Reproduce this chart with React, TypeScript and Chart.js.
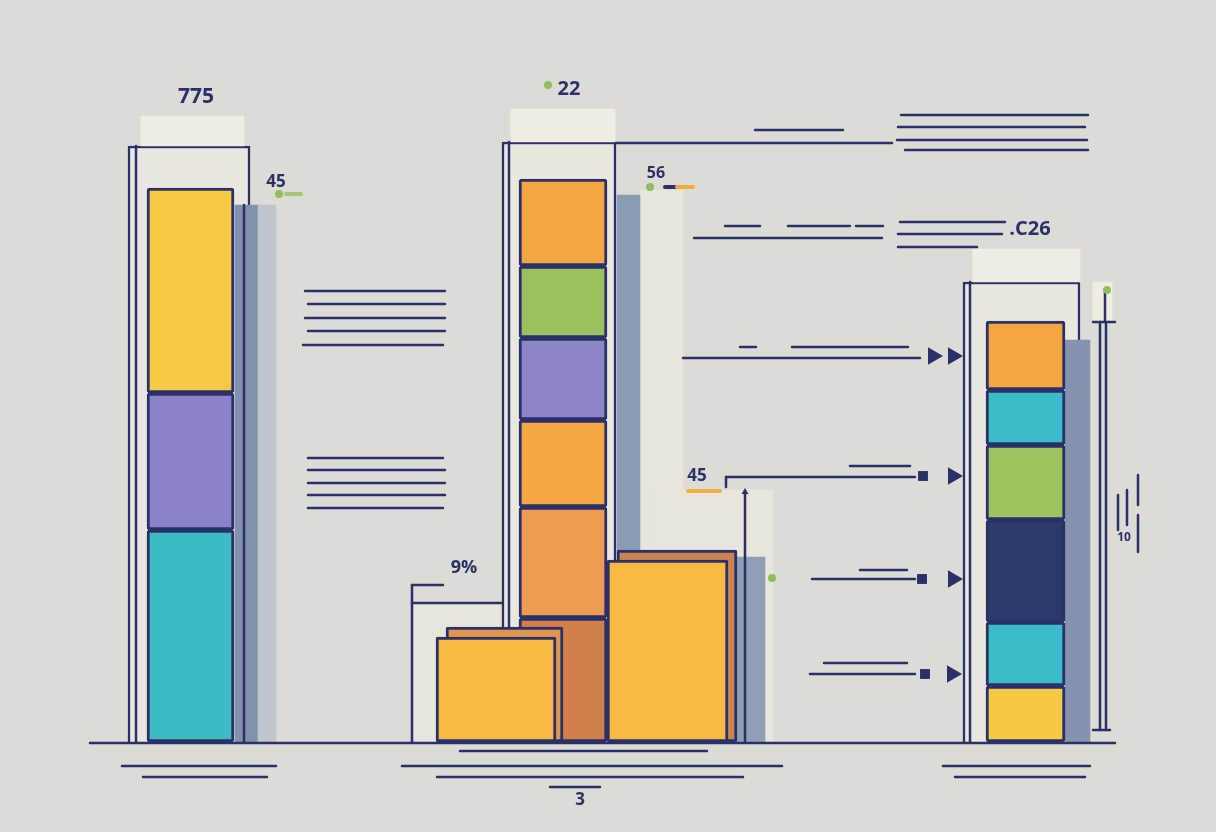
import React, { useEffect, useRef } from "react";
import { Chart, registerables } from "chart.js";
Chart.register(...registerables);

const NAVY = "#2a3068";
const BG = "#dcdbd5";

// ---------- main stacked columns ----------
const columnLabels = ["Left", "Middle", "Right"];
const columnX = [19.05, 56.3, 102.55];
const leftValues = [21.2, 13.7, 20.5];
const middleValues = [12.4, 11.1, 8.7, 8.2, 7.2, 8.7];
const rightValues = [5.6, 6.4, 10.2, 7.5, 5.5, 6.9];
const leftColors = ["#3dbbc5", "#8b83c8", "#f7c945"];
const middleColors = ["#d27f49", "#ef9b52", "#f5a744", "#8c86c6", "#9bc05f", "#f5a642"];
const rightColors = ["#f6c944", "#3cbcc9", "#2c3a6c", "#9dc45f", "#3bbdc9", "#f5a541"];
const columnValues = [leftValues, middleValues, rightValues];
const columnColors = [leftColors, middleColors, rightColors];
const columnWidth = [87, 88, 79];

// ---------- frames, caps ----------
const frameX = [18.9, 55.9, 102.15];
const frameTop = [59.6, 60.0, 46.0];
const frameWidth = [122, 114, 117];
const capX = [19.25, 56.3, 102.65];
const capTop = [62.6, 63.3, 49.3];
const capWidth = [103, 104, 107];

// ---------- shadows & cream panels ----------
const shadowX = [24.65, 26.7, 62.85, 75.1, 107.75];
const shadowTop = [53.7, 53.7, 54.7, 18.5, 40.2];
const shadowWidth = [23, 18, 23, 28, 25];
const shadowColors = ["#8192ad", "#c0c6cc", "#8a9bb4", "#8fa0b6", "#8494ae"];
const creamX = [66.15, 71.45, 45.6];
const creamTop = [55.2, 25.2, 13.9];
const creamWidth = [43, 117, 88];

// ---------- front boxes ----------
const boxX = [50.45, 49.6, 67.7, 66.75];
const boxTop = [11.5, 10.5, 19.2, 18.2];
const boxWidth = [117, 120, 120, 121];
const boxColors = ["#df964d", "#f6b843", "#c98450", "#f7b944"];

// ---------- rules (x1, x2, y) ----------
const hRules: number[][] = [
  [30.5, 44.5, 45.1], [30.8, 44.5, 43.8], [30.5, 44.5, 42.4], [30.8, 44.5, 41.1], [30.3, 44.3, 39.7],
  [30.8, 44.3, 28.4], [30.8, 44.5, 27.2], [30.8, 44.5, 25.9], [30.8, 44.5, 24.7], [30.8, 44.3, 23.4],
  [75.5, 84.3, 61.2], [61.6, 89.2, 59.9], [90.1, 108.8, 62.7], [89.8, 108.5, 61.5], [89.7, 108.7, 60.2], [90.5, 108.8, 59.2],
  [72.5, 76.0, 51.6], [78.8, 85.0, 51.6], [85.6, 88.3, 51.6], [69.4, 88.2, 50.4],
  [90.0, 100.5, 52.0], [89.8, 100.2, 50.8], [89.8, 97.7, 49.5],
  [74.0, 75.6, 39.5], [79.2, 90.8, 39.5], [68.3, 92.0, 38.4],
  [85.0, 91.0, 27.6], [72.6, 91.5, 26.5],
  [86.0, 90.7, 17.2], [81.2, 91.5, 16.3],
  [82.4, 90.7, 7.9], [81.0, 91.5, 6.8],
  [9.0, 111.5, -0.1],
  [12.2, 27.6, -2.4], [14.3, 26.7, -3.5],
  [46.0, 70.7, -0.9], [40.2, 78.2, -2.4], [43.7, 74.3, -3.5], [55.0, 60.0, -4.5],
  [94.3, 109.0, -2.4], [95.5, 108.5, -3.5],
  [41.2, 44.3, 15.7], [41.2, 50.2, 13.9],
  [109.3, 111.5, 42.0], [109.3, 111.0, 1.2],
];
// ---------- rules (x, y1, y2) ----------
const vRules: number[][] = [
  [13.6, 0, 59.6], [50.9, 0, 60.0], [97.0, 0, 46.0], [24.4, 0, 53.7],
  [74.5, 0, 25.0], [41.2, 0, 15.7], [72.6, 25.5, 26.5],
  [110.0, 1.2, 42.0], [110.6, 1.2, 42.0], [110.5, 42.0, 45.2],
  [111.8, 21.2, 24.7], [112.7, 21.7, 25.2], [113.8, 23.7, 26.7], [113.8, 19.0, 22.7],
];

// arrow heads and markers
const triangleX = [93.3, 95.3, 95.3, 95.3, 95.2];
const triangleY = [38.6, 38.6, 26.6, 16.3, 6.8];
const squareX = [92.3, 92.2, 92.5];
const squareY = [26.6, 16.3, 6.8];
const dotX = [54.8, 27.9, 65.0, 77.2, 110.7];
const dotY = [65.7, 54.8, 55.5, 16.4, 45.2];
const dashes: [number, number, number, string][] = [
  [28.6, 30.1, 54.8, "#a6c56d"],
  [66.5, 67.6, 55.5, NAVY],
  [67.7, 69.3, 55.5, "#f2ad3e"],
  [68.8, 72.0, 25.1, "#f2ad3e"],
];

// ---------- text labels ----------
const labelTexts = ["775", "45", "22", "56", ".C26", "45", "9%", "10", "3"];
const labelX = [19.6, 27.6, 56.9, 65.6, 103.0, 69.7, 46.4, 112.4, 58.0];
const labelY = [64.5, 56.0, 65.3, 56.9, 51.3, 26.6, 17.4, 20.4, -5.8];
const labelSizes = [21, 17, 20, 16, 20, 17, 18, 12, 17];

function block(x: number, lo: number, hi: number, width: number, fill: string | string[], border = "rgba(0,0,0,0)", bw = 0, skipped: any = false, radius = 0, data?: any[]) {
  return {
    type: "bar",
    data: data || [{ x, y: [lo, hi] }],
    backgroundColor: fill,
    borderColor: border,
    borderWidth: bw,
    borderSkipped: skipped,
    borderRadius: radius,
    barThickness: width,
    grouped: false,
  };
}

function linesDataset(segs: { x: number; y: number | null }[], color: string, width: number) {
  return {
    type: "line",
    data: segs,
    borderColor: color,
    borderWidth: width,
    pointRadius: 0,
    spanGaps: false,
    tension: 0,
    fill: false,
    borderCapStyle: "round",
  };
}

export default function App() {
  const ref = useRef<HTMLCanvasElement>(null);
  useEffect(() => {
    if (!ref.current) return;
    const ds: any[] = [];
    // cream panels
    creamX.forEach((x, i) => ds.push(block(x, 0, creamTop[i], creamWidth[i], "#e8e5dd")));
    // frames
    frameX.forEach((x, i) => ds.push(block(x, 0, frameTop[i], frameWidth[i], "#e9e7e0", NAVY, 2.5, "bottom")));
    // caps
    capX.forEach((x, i) => ds.push(block(x, frameTop[i], capTop[i], capWidth[i], "#f0ede4")));
    ds.push(block(110.25, 42.0, 46.0, 19, "#efece4"));
    // shadows
    shadowX.forEach((x, i) => ds.push(block(x, 0, shadowTop[i], shadowWidth[i], shadowColors[i])));
    // vertical rules go behind bars
    const vSegs: any[] = [];
    vRules.forEach(([x, y1, y2]) => { vSegs.push({ x, y: y1 }, { x, y: y2 }, { x, y: null }); });
    ds.push(linesDataset(vSegs, NAVY, 2.5));
    // main columns
    columnValues.forEach((vals, c) => {
      let acc = 0;
      const data = vals.map((v) => { const d = { x: columnX[c], y: [acc, acc + v] }; acc += v; return d; });
      ds.push(block(columnX[c], 0, 0, columnWidth[c], columnColors[c], NAVY, 3, false, 3, data));
    });
    // front boxes
    boxX.forEach((x, i) => ds.push(block(x, 0, boxTop[i], boxWidth[i], boxColors[i], NAVY, 3, false, 2)));
    // horizontal rules
    const hSegs: any[] = [];
    hRules.forEach(([x1, x2, y]) => { hSegs.push({ x: x1, y }, { x: x2, y }, { x: x2, y: null }); });
    ds.push(linesDataset(hSegs, NAVY, 2.5));
    // colored dashes
    dashes.forEach(([x1, x2, y, c]) => ds.push(linesDataset([{ x: x1, y }, { x: x2, y }], c, 4)));
    // markers
    ds.push({
      type: "scatter",
      data: triangleX.map((x, i) => ({ x, y: triangleY[i] })),
      pointStyle: "triangle",
      rotation: 90,
      pointRadius: 10,
      backgroundColor: NAVY,
      borderColor: NAVY,
      borderWidth: 0,
    });
    ds.push({
      type: "scatter",
      data: squareX.map((x, i) => ({ x, y: squareY[i] })),
      pointStyle: "rect",
      pointRadius: 7,
      backgroundColor: NAVY,
      borderWidth: 0,
    });
    ds.push({
      type: "scatter",
      data: [{ x: 74.5, y: 25.0 }],
      pointStyle: "triangle",
      pointRadius: 4,
      backgroundColor: NAVY,
      borderWidth: 0,
    });
    ds.push({
      type: "scatter",
      data: dotX.map((x, i) => ({ x, y: dotY[i] })),
      pointStyle: "circle",
      pointRadius: 4,
      backgroundColor: "#8fbf5a",
      borderWidth: 0,
    });
    const n = ds.length;
    ds.forEach((d, i) => { d.order = n - i; });

    const labelPlugin = {
      id: "labelPlugin",
      afterDatasetsDraw(chart: any) {
        const { ctx, scales } = chart;
        ctx.save();
        ctx.fillStyle = NAVY;
        ctx.textAlign = "center";
        ctx.textBaseline = "middle";
        labelTexts.forEach((t, i) => {
          ctx.font = `700 ${labelSizes[i]}px "Open Sans", sans-serif`;
          ctx.fillText(t, scales.x.getPixelForValue(labelX[i]), scales.y.getPixelForValue(labelY[i]));
        });
        ctx.restore();
      },
    };

    const chart = new Chart(ref.current, {
      type: "bar",
      data: { labels: columnLabels, datasets: ds },
      options: {
        responsive: false,
        animation: false,
        events: [],
        layout: { padding: 0, autoPadding: false },
        plugins: { legend: { display: false }, tooltip: { enabled: false } },
        scales: {
          x: { type: "linear", min: 0, max: 121.6, display: false, offset: false, grid: { display: false } },
          y: { type: "linear", min: -9, max: 74.2, display: false, stacked: false, grid: { display: false } },
        },
      },
      plugins: [labelPlugin],
    } as any);
    return () => chart.destroy();
  }, []);
  return (
    <div style={{ position: "absolute", left: 0, top: 0, width: 1216, height: 832, background: BG }}>
      <canvas ref={ref} width={1216} height={832} />
    </div>
  );
}
